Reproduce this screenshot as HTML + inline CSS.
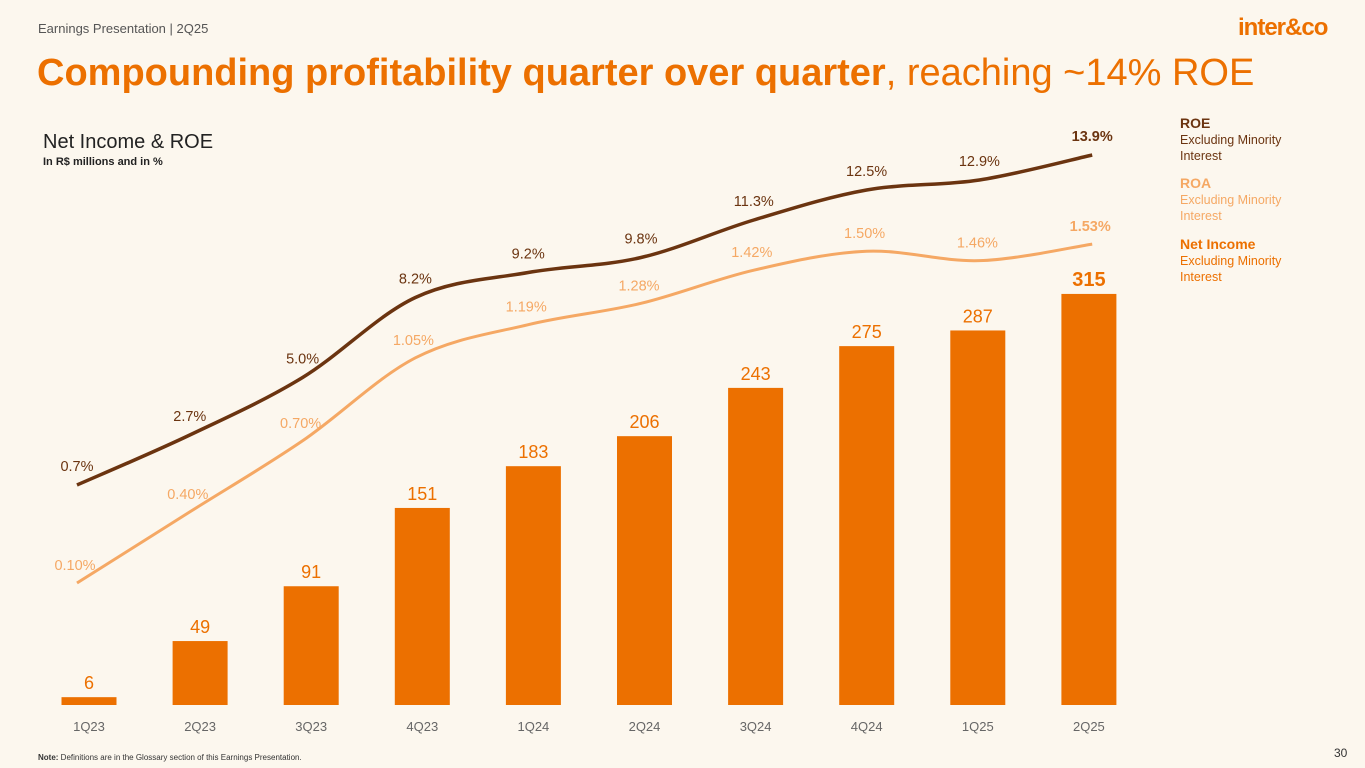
<!DOCTYPE html>
<html><head><meta charset="utf-8"><style>
body{margin:0;width:1365px;height:768px;background:#fcf7ee;font-family:"Liberation Sans",sans-serif;overflow:hidden;position:relative}
.a{position:absolute;white-space:nowrap}
</style></head><body>
<div class="a" style="left:38px;top:21px;font-size:13px;color:#555">Earnings Presentation | 2Q25</div>
<div class="a" style="left:1238px;top:14px;font-size:24px;font-weight:bold;color:#ec7000;letter-spacing:-1px">inter&amp;co</div>
<div class="a" style="left:37px;top:52px;font-size:38px;color:#ec7000"><b>Compounding profitability quarter over quarter</b>, reaching ~14% ROE</div>
<div class="a" style="left:43px;top:131px;font-size:20px;color:#222">Net Income &amp; ROE</div>
<div class="a" style="left:43px;top:156px;font-size:11px;font-weight:bold;color:#222">In R$ millions and in %</div>
<div class="a" style="left:1180px;top:115px;font-size:12.5px;color:#6b3410;line-height:16px"><b style="font-size:14px">ROE</b><br>Excluding Minority<br>Interest</div>
<div class="a" style="left:1180px;top:175px;font-size:12.5px;color:#f5a864;line-height:16px"><b style="font-size:14px">ROA</b><br>Excluding Minority<br>Interest</div>
<div class="a" style="left:1180px;top:236px;font-size:12.5px;color:#ec7000;line-height:16px"><b style="font-size:14px">Net Income</b><br>Excluding Minority<br>Interest</div>
<div class="a" style="left:38px;top:753px;font-size:8px;color:#333"><b>Note:</b> Definitions are in the Glossary section of this Earnings Presentation.</div>
<div class="a" style="left:1334px;top:746px;font-size:12px;color:#333">30</div>
<svg id="c" width="1365" height="768" style="position:absolute;left:0;top:0"></svg>
<script>
const categories=["1Q23","2Q23","3Q23","4Q23","1Q24","2Q24","3Q24","4Q24","1Q25","2Q25"];
const netIncome=[6,49,91,151,183,206,243,275,287,315];
const roe=[0.7,2.7,5.0,8.2,9.2,9.8,11.3,12.5,12.9,13.9];
const roa=[0.10,0.40,0.70,1.05,1.19,1.28,1.42,1.50,1.46,1.53];
const roeLabels=["0.7%","2.7%","5.0%","8.2%","9.2%","9.8%","11.3%","12.5%","12.9%","13.9%"];
const roaLabels=["0.10%","0.40%","0.70%","1.05%","1.19%","1.28%","1.42%","1.50%","1.46%","1.53%"];
const svg=document.getElementById('c');const NS="http://www.w3.org/2000/svg";
const xBar=i=>89+i*111.1, yBar=v=>705-v*1.305;
const xLine=i=>77+i*112.8, yRoe=v=>502.5-25*v, yRoa=v=>606.7-237*v;
function mk(t,a,txt){const e=document.createElementNS(NS,t);for(const k in a)e.setAttribute(k,a[k]);if(txt!==undefined)e.textContent=txt;svg.appendChild(e);return e;}
netIncome.forEach((v,i)=>{
 const b=mk('rect',{x:xBar(i)-27.5,y:yBar(v),width:55,height:705-yBar(v),fill:'#ec7000'});
 
 
 const t=mk('text',{x:xBar(i),y:yBar(v)-8,'text-anchor':'middle','font-size':i==9?20:18,'font-weight':i==9?'bold':'normal',fill:'#ec7000','font-family':'Liberation Sans'},v);
 
 
 const c=mk('text',{x:xBar(i),y:731,'text-anchor':'middle','font-size':13,fill:'#666','font-family':'Liberation Sans'},categories[i]);
 
 
});
function smooth(pts){let d=`M${pts[0][0]},${pts[0][1]}`;for(let i=0;i<pts.length-1;i++){const p0=pts[Math.max(i-1,0)],p1=pts[i],p2=pts[i+1],p3=pts[Math.min(i+2,pts.length-1)];d+=` C${p1[0]+(p2[0]-p0[0])/6},${p1[1]+(p2[1]-p0[1])/6} ${p2[0]-(p3[0]-p1[0])/6},${p2[1]-(p3[1]-p1[1])/6} ${p2[0]},${p2[1]}`;}return d;}
const roaPts=roa.map((v,i)=>[xLine(i),yRoa(v)]), roePts=roe.map((v,i)=>[xLine(i),yRoe(v)]);
const l1=mk('path',{d:smooth(roaPts),fill:'none',stroke:'#f5a864','stroke-width':3});


const l2=mk('path',{d:smooth(roePts),fill:'none',stroke:'#6b3410','stroke-width':3.5});


roaPts.forEach((p,i)=>{const t=mk('text',{x:p[0]-2,y:p[1]-13,'text-anchor':'middle','font-size':14.5,'font-weight':i==9?'bold':'normal',fill:'#f5a864','font-family':'Liberation Sans'},roaLabels[i]);
 
 });
roePts.forEach((p,i)=>{const t=mk('text',{x:p[0],y:p[1]-14,'text-anchor':'middle','font-size':14.5,'font-weight':i==9?'bold':'normal',fill:'#6b3410','font-family':'Liberation Sans'},roeLabels[i]);
 
 });
</script>
</body></html>
